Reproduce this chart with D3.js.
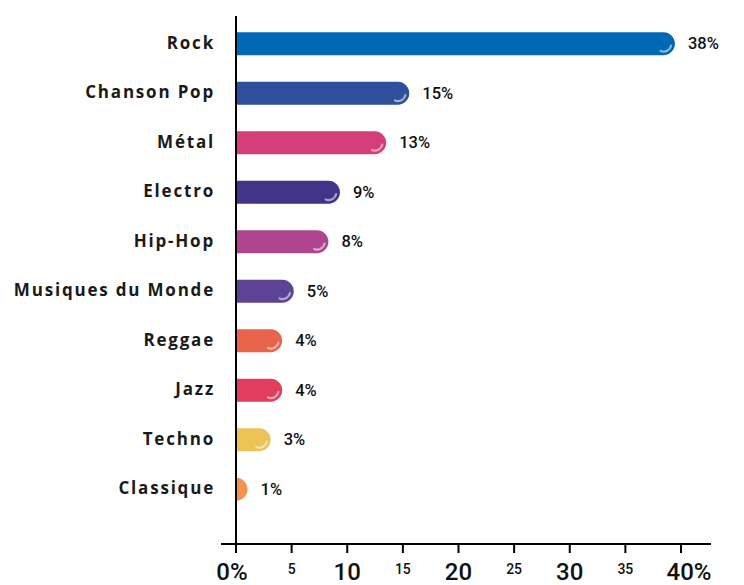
<!DOCTYPE html>
<html>
<head>
<meta charset="utf-8">
<script src="https://cdn.jsdelivr.net/npm/d3@7"></script>
<style>
  html, body { margin: 0; padding: 0; background: #ffffff; }
  svg { display: block; }
</style>
</head>
<body>
<script>
// Genres de musique préférés (part des répondants, %)
const genres = ["Rock", "Chanson Pop", "Métal", "Electro", "Hip-Hop",
  "Musiques du Monde", "Reggae", "Jazz", "Techno", "Classique"];
const shares = [38, 15, 13, 9, 8, 5, 4, 4, 3, 1];
const barColors = ["#0069b4", "#2e4f9c", "#d43f7a", "#41358a", "#b0458f",
  "#5d4395", "#e8644b", "#e13e5d", "#ebc455", "#f09250"];
const majorTicks = [0, 10, 20, 30, 40];
const majorTickLabels = ["0%", "10", "20", "30", "40%"];
const minorTicks = [5, 15, 25, 35];

const W = 744, H = 585;
const svg = d3.select("body").append("svg").attr("width", W).attr("height", H);

const x0 = 236;
// bar scale and axis scale (the drawn axis is slightly tighter than the bars)
const xBar = d3.scaleLinear().domain([0, 40]).range([x0, 698]);
const xAxis = d3.scaleLinear().domain([0, 40]).range([x0, 681]);
const y = d3.scaleBand().domain(genres).range([19, 514]).paddingInner(0.54).paddingOuter(0.27);

const bh = y.bandwidth();
const r = bh / 2;

// bars: square at the axis, rounded at the end
function barPath(v) {
  const x1 = xBar(v);
  const w = x1 - x0;
  if (w <= r) {
    return `M${x0},0 A${r},${r} 0 0 1 ${x0},${bh} Z`;
  }
  return `M${x0},0 H${x1 - r} A${r},${r} 0 0 1 ${x1 - r},${bh} H${x0} Z`;
}

const rows = svg.append("g").selectAll("g")
  .data(genres.map((g, i) => ({ g, v: shares[i], c: barColors[i] })))
  .join("g")
  .attr("transform", d => `translate(0,${y(d.g)})`);

rows.append("path").attr("d", d => barPath(d.v)).attr("fill", d => d.c);

// glossy highlight near the rounded end
rows.filter(d => xBar(d.v) - x0 > bh)
  .append("path")
  .attr("d", d => {
    const cx = xBar(d.v) - r, cy = r, rr = r * 0.68;
    const a0 = Math.PI * 0.08, a1 = Math.PI * 0.62;
    return `M${cx + rr * Math.cos(a0)},${cy + rr * Math.sin(a0)} A${rr},${rr} 0 0 1 ${cx + rr * Math.cos(a1)},${cy + rr * Math.sin(a1)}`;
  })
  .attr("fill", "none")
  .attr("stroke", "rgba(255,255,255,0.55)")
  .attr("stroke-width", 2.2)
  .attr("stroke-dasharray", "3 2 12")
  .attr("stroke-linecap", "round");

// value labels
rows.append("text")
  .attr("x", d => xBar(d.v) + 13)
  .attr("y", r)
  .attr("dy", "0.34em")
  .attr("font-family", "Roboto, 'DejaVu Sans Condensed', sans-serif")
  .attr("font-weight", 500)
  .attr("font-size", 16.5)
  .attr("fill", "#111")
  .text(d => d.v + "%");

// category labels
rows.append("text")
  .attr("x", 215)
  .attr("y", r)
  .attr("dy", "0.28em")
  .attr("text-anchor", "end")
  .attr("font-family", "'Open Sans', Lato, sans-serif")
  .attr("font-weight", 700)
  .attr("font-size", 17)
  .attr("letter-spacing", "1.8px")
  .attr("fill", "#1a1a1a")
  .text(d => d.g);

// axes
const axisY = 544;
svg.append("line")
  .attr("x1", x0).attr("x2", x0).attr("y1", 16).attr("y2", axisY + 8)
  .attr("stroke", "#000").attr("stroke-width", 2);
svg.append("line")
  .attr("x1", 221).attr("x2", 711).attr("y1", axisY).attr("y2", axisY)
  .attr("stroke", "#000").attr("stroke-width", 2);

const ticks = svg.append("g");
ticks.selectAll("line")
  .data(majorTicks.concat(minorTicks))
  .join("line")
  .attr("x1", d => xAxis(d)).attr("x2", d => xAxis(d))
  .attr("y1", axisY).attr("y2", axisY + 9)
  .attr("stroke", "#000").attr("stroke-width", 2);

ticks.selectAll("text.major")
  .data(majorTicks)
  .join("text")
  .attr("class", "major")
  .attr("x", (d, i) => xAxis(d) + (i === 0 ? -4 : i === majorTicks.length - 1 ? 8 : 0))
  .attr("y", 580)
  .attr("text-anchor", "middle")
  .attr("font-family", "Roboto, 'DejaVu Sans Condensed', sans-serif")
  .attr("font-weight", 500)
  .attr("font-size", 24)
  .attr("fill", "#111")
  .text((d, i) => majorTickLabels[i]);

ticks.selectAll("text.minor")
  .data(minorTicks)
  .join("text")
  .attr("class", "minor")
  .attr("x", d => xAxis(d))
  .attr("y", 574)
  .attr("text-anchor", "middle")
  .attr("font-family", "Roboto, 'DejaVu Sans Condensed', sans-serif")
  .attr("font-weight", 500)
  .attr("font-size", 14)
  .attr("fill", "#111")
  .text(d => d);
</script>
</body>
</html>
